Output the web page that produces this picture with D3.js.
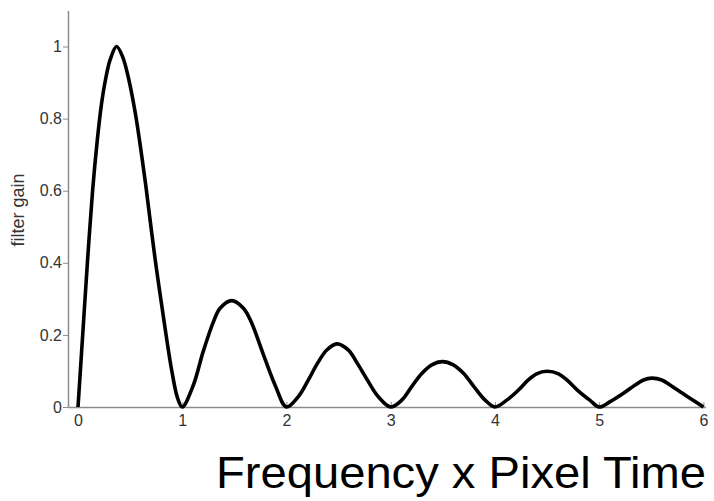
<!DOCTYPE html>
<html>
<head>
<meta charset="utf-8">
<script src="https://cdn.jsdelivr.net/npm/d3@7"></script>
<style>
  body { margin: 0; background: #fff; }
  text { font-family: "Liberation Sans", Arial, sans-serif; }
</style>
</head>
<body>
<div id="chart"></div>
<script>
// curve points
const freq = [
  0, 0.045, 0.09, 0.14, 0.185, 0.225, 0.265, 0.31, 0.37, 0.43, 0.49, 0.55, 0.6, 0.65, 0.74, 0.845, 0.9, 0.955, 1.0,
  1.107, 1.2, 1.3, 1.363, 1.475, 1.587, 1.66, 1.769, 1.89, 2.0,
  2.114, 2.21, 2.297, 2.387, 2.483, 2.594, 2.68, 2.776, 2.88, 3.0,
  3.106, 3.2, 3.298, 3.394, 3.496, 3.6, 3.7, 3.8, 3.906, 4.0,
  4.114, 4.226, 4.32, 4.4, 4.498, 4.61, 4.69, 4.79, 4.91, 5.0,
  5.106, 5.233, 5.345, 5.425, 5.505, 5.6, 5.68, 5.8, 5.92, 6.0
]
const gain = [
  0, 0.2, 0.4, 0.6, 0.74, 0.84, 0.91, 0.965, 1.0, 0.97, 0.905, 0.815, 0.72, 0.615, 0.41, 0.2, 0.1, 0.025, 0,
  0.061, 0.153, 0.237, 0.274, 0.295, 0.274, 0.237, 0.153, 0.061, 0,
  0.029, 0.075, 0.121, 0.158, 0.175, 0.158, 0.121, 0.075, 0.029, 0,
  0.019, 0.056, 0.093, 0.117, 0.126, 0.117, 0.093, 0.056, 0.019, 0,
  0.019, 0.047, 0.075, 0.092, 0.099, 0.092, 0.075, 0.047, 0.019, 0,
  0.015, 0.038, 0.061, 0.075, 0.08, 0.075, 0.061, 0.038, 0.015, 0
]
const xTicks = [0, 1, 2, 3, 4, 5, 6]
const yTicks = [0, 0.2, 0.4, 0.6, 0.8, 1]

const width = 714, height = 501

const svg = d3.select("#chart").append("svg")
  .attr("width", width)
  .attr("height", height)

// scales
const x = d3.scaleLinear().domain([-0.096, 6.02]).range([68, 705.5])
const y = d3.scaleLinear().domain([0, 1.1]).range([407, 10.5])

// y axis - ticks outward
const yAxis = svg.append("g")
  .attr("transform", "translate(" + x.range()[0] + ",0)")
  .call(d3.axisLeft(y).tickValues(yTicks).tickSize(5).tickSizeOuter(0)
    .tickFormat(d => d === 0 ? "0" : d === 1 ? "1" : d3.format(".1f")(d)))
yAxis.select(".domain").attr("stroke", "#8c8c8c").attr("stroke-width", 1.5)
yAxis.selectAll(".tick line").attr("stroke", "#8c8c8c")
yAxis.selectAll(".tick text").attr("fill", "#333").attr("font-size", 16).attr("x", -6)

// x axis - ticks inward
const xAxis = svg.append("g")
  .attr("transform", "translate(0," + y(0) + ")")
  .call(d3.axisBottom(x).tickValues(xTicks).tickSize(-5).tickSizeOuter(0).tickPadding(8)
    .tickFormat(d3.format("d")))
xAxis.select(".domain").attr("stroke", "#8c8c8c").attr("stroke-width", 1.5)
xAxis.selectAll(".tick line").attr("stroke", "#8c8c8c")
xAxis.selectAll(".tick text").attr("fill", "#333").attr("font-size", 16)

// curve
const pts = freq.map((f, i) => [f, gain[i]])
const line = d3.line()
  .x(d => x(d[0]))
  .y(d => y(d[1]))
  .curve(d3.curveCatmullRom.alpha(0.5))

svg.append("path")
  .datum(pts)
  .attr("d", line)
  .attr("fill", "none")
  .attr("stroke", "#000")
  .attr("stroke-width", 3.6)
  .attr("stroke-linejoin", "round")

// y label
svg.append("text")
  .attr("transform", "translate(24,210) rotate(-90)")
  .attr("text-anchor", "middle")
  .attr("font-size", 18)
  .attr("fill", "#333")
  .text("filter gain")

// big caption
svg.append("text")
  .attr("x", 706)
  .attr("y", 488)
  .attr("text-anchor", "end")
  .attr("font-size", 45)
  .attr("textLength", 490)
  .attr("lengthAdjust", "spacingAndGlyphs")
  .attr("fill", "#000")
  .text("Frequency x Pixel Time")
</script>
</body>
</html>
